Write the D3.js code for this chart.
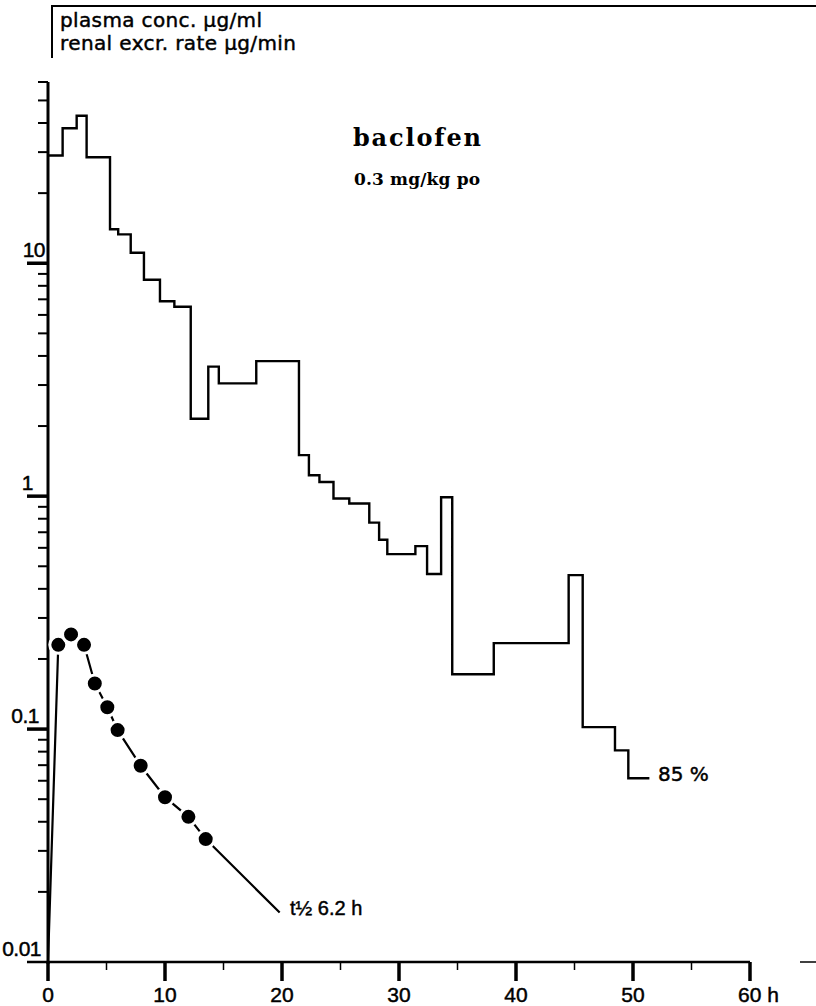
<!DOCTYPE html>
<html>
<head>
<meta charset="utf-8">
<script src="https://cdn.jsdelivr.net/npm/d3@7"></script>
<style>
  html, body { margin: 0; padding: 0; background: #fff; }
  svg { display: block; }
  text.heavy { stroke: #000; stroke-width: 0.45px; }
</style>
</head>
<body>
<svg id="chart" width="816" height="1006"></svg>
<script>
// ---- data ----
const excrEdges = [0, 1.25, 2.45, 3.3, 5.3, 6.0, 7.07, 8.2, 9.57, 10.8, 12.2, 13.7, 14.6, 17.8,
  21.45, 22.3, 23.2, 24.4, 25.75, 27.46, 28.3, 29.0, 31.4, 32.4, 33.6, 34.55, 38.1, 44.5,
  45.7, 48.46, 49.6];
const excrEnd = 51.4;
const excrRate = [29, 38, 43, 28.5, 14, 13.3, 11.1, 8.5, 6.87, 6.5, 2.15, 3.6, 3.05, 3.8,
  1.5, 1.23, 1.15, 0.977, 0.93, 0.77, 0.65, 0.564, 0.61, 0.463, 0.99, 0.172, 0.234, 0.458,
  0.102, 0.081, 0.0615];

const plasmaTime = [0.88, 1.97, 3.08, 4.0, 5.07, 5.95, 7.92, 10.0, 12.0, 13.48];
const plasmaConc = [0.23, 0.255, 0.23, 0.157, 0.124, 0.099, 0.0696, 0.051, 0.042, 0.0337];
const fitStart = [0, 0.01];
const fitEnd = [19.8, 0.0163];

const xMajorTicks = [0, 10, 20, 30, 40, 50, 60];
const xMinorTicks = [5, 15, 25, 35, 45, 55];
const yMajorTicks = [0.01, 0.1, 1, 10];
const yMinorTicks = [0.02,0.03,0.04,0.05,0.06,0.07,0.08,0.09,
  0.2,0.3,0.4,0.5,0.6,0.7,0.8,0.9, 2,3,4,5,6,7,8,9, 20,30,40,50,60];
const yTickLabels = {0.01: "0.01", 0.1: "0.1", 1: "1", 10: "10"};
const xTickLabels = {0: "0", 10: "10", 20: "20", 30: "30", 40: "40", 50: "50", 60: "60 h"};

// ---- scales ----
const svg = d3.select("#chart");
const x = d3.scaleLinear().domain([0, 60]).range([48, 750]);
const y = d3.scaleLog().domain([0.01, 60]).range([962, 82]);

const sans = "'Liberation Sans', Arial, sans-serif";
const dsans = "'DejaVu Sans', sans-serif";
const serif = "'DejaVu Serif', serif";

// ---- header box ----
svg.append("path").attr("d", "M52,58 V6 H816").attr("fill", "none")
  .attr("stroke", "#000").attr("stroke-width", 2);
svg.append("text").attr("class", "heavy").attr("x", 60).attr("y", 27).attr("font-family", dsans)
  .attr("font-size", 20).attr("textLength", 202).text("plasma conc. µg/ml");
svg.append("text").attr("class", "heavy").attr("x", 60).attr("y", 50).attr("font-family", dsans)
  .attr("font-size", 20).attr("textLength", 236).text("renal excr. rate µg/min");

// ---- y axis ----
const yAxisG = svg.append("g").attr("transform", `translate(${x(0)},0)`);
yAxisG.append("line").attr("x1", 0).attr("x2", 0).attr("y1", y(60)).attr("y2", y(0.01) + 2)
  .attr("stroke", "#000").attr("stroke-width", 3);
yAxisG.selectAll("line.minor").data(yMinorTicks).join("line").attr("class", "minor")
  .attr("x1", -10).attr("x2", 0).attr("y1", d => y(d)).attr("y2", d => y(d))
  .attr("stroke", "#000").attr("stroke-width", 2);
yAxisG.selectAll("line.major").data(yMajorTicks.filter(d => d > 0.01)).join("line").attr("class", "major")
  .attr("x1", -21).attr("x2", 0).attr("y1", d => y(d)).attr("y2", d => y(d))
  .attr("stroke", "#000").attr("stroke-width", 3.5);
const yLabelDx = {0.01: -7, 0.1: -9, 1: -15, 10: -3};
yAxisG.selectAll("text").data(yMajorTicks).join("text").attr("class", "heavy")
  .attr("x", d => yLabelDx[d]).attr("y", d => y(d) - 6)
  .attr("text-anchor", "end").attr("font-family", sans).attr("font-size", 21)
  .attr("letter-spacing", -0.5)
  .text(d => yTickLabels[d]);

// ---- x axis ----
const xAxisG = svg.append("g").attr("transform", `translate(0,${y(0.01)})`);
xAxisG.append("line").attr("x1", 27).attr("x2", x(60)).attr("y1", 0).attr("y2", 0)
  .attr("stroke", "#000").attr("stroke-width", 2.5);
xAxisG.append("line").attr("x1", 800).attr("x2", 816).attr("y1", 0).attr("y2", 0)
  .attr("stroke", "#000").attr("stroke-width", 1.5);
xAxisG.selectAll("line.major").data(xMajorTicks).join("line").attr("class", "major")
  .attr("x1", d => x(d)).attr("x2", d => x(d)).attr("y1", 0).attr("y2", 19)
  .attr("stroke", "#000").attr("stroke-width", 3.5);
xAxisG.selectAll("line.minor").data(xMinorTicks).join("line").attr("class", "minor")
  .attr("x1", d => x(d)).attr("x2", d => x(d)).attr("y1", 0).attr("y2", 8)
  .attr("stroke", "#000").attr("stroke-width", 1.5);
xAxisG.selectAll("text").data(xMajorTicks).join("text").attr("class", "heavy")
  .attr("x", d => d === 60 ? x(d) - 12 : x(d)).attr("y", 40)
  .attr("text-anchor", d => d === 60 ? "start" : "middle")
  .attr("font-family", sans).attr("font-size", 21)
  .text(d => xTickLabels[d]);

// ---- renal excretion step line ----
const stepPts = excrEdges.map((t, i) => [t, excrRate[i]]);
stepPts.push([excrEnd, excrRate[excrRate.length - 1]]);
const stepLine = d3.line().x(d => x(d[0])).y(d => y(d[1])).curve(d3.curveStepAfter);
svg.append("path").attr("d", stepLine(stepPts)).attr("fill", "none")
  .attr("stroke", "#000").attr("stroke-width", 2.4).attr("stroke-linejoin", "miter");

// ---- plasma line + dots ----
const plasmaPts = [fitStart].concat(plasmaTime.map((t, i) => [t, plasmaConc[i]])).concat([fitEnd]);
const plLine = d3.line().x(d => x(d[0])).y(d => y(d[1]));
svg.append("path").attr("d", plLine(plasmaPts)).attr("fill", "none")
  .attr("stroke", "#000").attr("stroke-width", 2.2);
svg.selectAll("circle.dot").data(plasmaTime.map((t, i) => [t, plasmaConc[i]])).join("circle")
  .attr("class", "dot").attr("cx", d => x(d[0])).attr("cy", d => y(d[1])).attr("r", 8.5)
  .attr("fill", "#000").attr("stroke", "#fff").attr("stroke-width", 3);

// ---- annotations ----
svg.append("text").attr("x", 353).attr("y", 146).attr("font-family", serif)
  .attr("font-weight", "bold").attr("font-size", 24).attr("textLength", 128).text("baclofen");
svg.append("text").attr("x", 354).attr("y", 185).attr("font-family", serif)
  .attr("font-weight", "bold").attr("font-size", 17).attr("textLength", 126).text("0.3 mg/kg po");
svg.append("text").attr("class", "heavy").attr("x", 658).attr("y", 781).attr("font-family", dsans)
  .attr("font-size", 20).text("85 %");
svg.append("text").attr("class", "heavy").attr("x", 290).attr("y", 915).attr("font-family", sans)
  .attr("font-size", 20).text("t½ 6.2 h");
</script>
</body>
</html>
